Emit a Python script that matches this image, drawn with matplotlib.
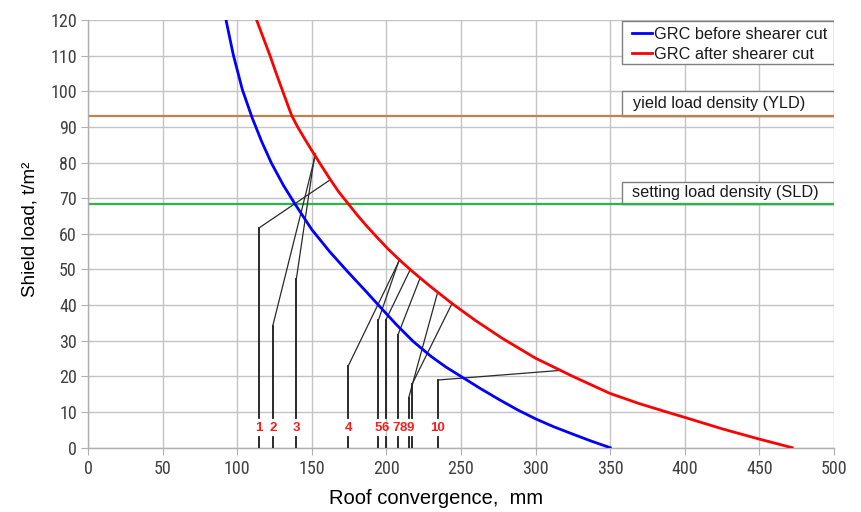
import matplotlib
matplotlib.use("Agg")
from matplotlib import pyplot as plt
from matplotlib import font_manager as fm
from matplotlib.patches import Rectangle

plt.rcParams['font.family'] = ['Liberation Sans', 'DejaVu Sans']

# narrow face for the tick numbers, if the system has one
installed = {f.name for f in fm.fontManager.ttflist}
tick_font = 'Liberation Sans'
for name in ['Liberation Sans Narrow', 'Roboto Condensed', 'Open Sans Condensed']:
    if name in installed:
        tick_font = name
        break

# ground reaction curves (roof convergence mm, shield load t/m2)
grc_before_x = [92.5, 97.4, 103.5, 110, 116.5, 123, 131, 139, 150, 162, 174, 186, 196,
                207, 218, 230, 240, 250, 263, 276, 288, 300, 312, 325, 337, 350]
grc_before_y = [120, 110.2, 100.4, 92.6, 85.8, 79.8, 73.6, 68.2, 61.2, 55.0, 49.4, 44.0, 39.4,
                34.4, 29.8, 25.6, 22.6, 20.0, 16.6, 13.4, 10.6, 8.1, 5.9, 3.8, 1.9, 0]

grc_after_x = [113, 117.5, 122, 126, 130, 133.5, 136.5, 140.5, 145, 150, 156, 162, 168,
               174.5, 181, 187, 194, 201, 209, 217, 229, 244.5, 260, 278, 300, 325,
               350, 370, 388, 400, 425, 450, 472]
grc_after_y = [120, 115, 110, 105.2, 100.6, 96.6, 93.2, 90.0, 86.8, 83.4, 79.4, 75.5, 71.8,
               68.4, 65.0, 62.1, 58.9, 55.8, 52.6, 49.6, 45.4, 40.3, 35.6, 30.6, 25.1, 20.0,
               15.2, 12.3, 10.0, 8.5, 5.3, 2.4, 0]

yld = 93.0
sld = 68.5

# measured supports: position, load reached, and where it links onto the curve
support_ids = ['1', '2', '3', '4', '5', '6', '7', '8', '9', '10']
support_x = [114.8, 123.8, 139.6, 174.5, 194.6, 199.5, 207.8, 214.9, 217.2, 234.8]
label_x = [114.8, 123.8, 139.6, 174.5, 194.4, 199.4, 206.3, 211.4, 216.2, 234.2]
support_top = [61.7, 34.1, 47.2, 23.0, 35.7, 35.7, 31.7, 13.9, 17.8, 19.0]
link_x = [162.5, 152.6, 152.0, 209, 208.5, 215.8, 222.5, 234.1, 243.7, 317]
link_y = [75.2, 82.4, 82.3, 52.8, 52.6, 49.8, 47.5, 43.2, 40.2, 21.7]

fig = plt.figure(figsize=(8.61, 5.12), dpi=100)
ax = fig.add_axes([0.1022, 0.1256, 0.8664, 0.8354])

ax.set_xlim(0, 500)
ax.set_ylim(0, 120)
ax.set_xticks(range(0, 501, 50))
ax.set_yticks(range(0, 121, 10))
ax.grid(True, color='#c4c4c4', linewidth=1.0, zorder=0)
ax.set_axisbelow(True)
for side in ['top', 'right']:
    ax.spines[side].set_visible(False)
for side in ['left', 'bottom']:
    ax.spines[side].set_color('#b0b0b0')
    ax.spines[side].set_linewidth(1.0)
ax.tick_params(direction='out', length=5, color='#b0b0b0', labelcolor='#404040',
               labelsize=13)
ax.tick_params(axis='y', pad=3)
ax.tick_params(axis='x', pad=4)
for lab in ax.get_xticklabels() + ax.get_yticklabels():
    lab.set_fontfamily(tick_font)

# support load paths
for sx, top, lx, ly in zip(support_x, support_top, link_x, link_y):
    ax.plot([sx, sx], [8.4, top], color='#1a1a1a', linewidth=1.3, zorder=3)
    ax.plot([sx, lx], [top, ly], color='#2a2a2a', linewidth=0.9, zorder=3)
    ax.plot([sx, sx], [0, 3.0], color='#1a1a1a', linewidth=1.3, zorder=3)
for tx, sid in zip(label_x, support_ids):
    ax.text(tx, 5.5, sid, color='#ff1a1a', fontsize=9.5, fontweight='bold',
            ha='center', va='center', zorder=4)

ax.axhline(yld, color='#c47e50', linewidth=1.6, zorder=2)
ax.axhline(sld, color='#2db34a', linewidth=1.6, zorder=2)

ax.plot(grc_before_x, grc_before_y, color='#0000ff', linewidth=2.0,
        label='GRC before shearer cut', zorder=4)
ax.plot(grc_after_x, grc_after_y, color='#ff0000', linewidth=2.0,
        label='GRC after shearer cut', zorder=4)

# boxed notes on the right
box_kw = dict(facecolor='white', edgecolor='#808080', linewidth=1.0, zorder=2.5)
ax.add_patch(Rectangle((358, 107.6), 142, 12.1, **box_kw))
ax.add_patch(Rectangle((358, yld), 142, 7.0, **box_kw))
ax.add_patch(Rectangle((358, sld), 142, 6.0, **box_kw))
ax.axhline(yld, xmin=0.716, color='#c47e50', linewidth=1.6, zorder=2.6)
ax.axhline(sld, xmin=0.716, color='#2db34a', linewidth=1.6, zorder=2.6)
ax.text(365.3, 96.7, 'yield load density (YLD)', fontsize=11.7, color='#1a1a1a',
        ha='left', va='center', zorder=3)
ax.text(364.6, 71.5, 'setting load density (SLD)', fontsize=11.7, color='#1a1a1a',
        ha='left', va='center', zorder=3)

leg = ax.legend(loc='upper left', bbox_to_anchor=(0.7288, 0.984), frameon=False,
                fontsize=11.7, handlelength=1.25, handletextpad=0.1,
                labelspacing=0.3, borderpad=0, borderaxespad=0)
leg.set_zorder(5)
for t in leg.get_texts():
    t.set_color('#1a1a1a')

ax.set_xlabel('Roof convergence,  mm', fontsize=14.5)
ax.xaxis.set_label_coords(0.4665, -0.097)
ax.set_ylabel('Shield load, t/m²', fontsize=13.5)
ax.yaxis.set_label_coords(-0.066, 0.51)

fig.savefig('out.png', dpi=100)
